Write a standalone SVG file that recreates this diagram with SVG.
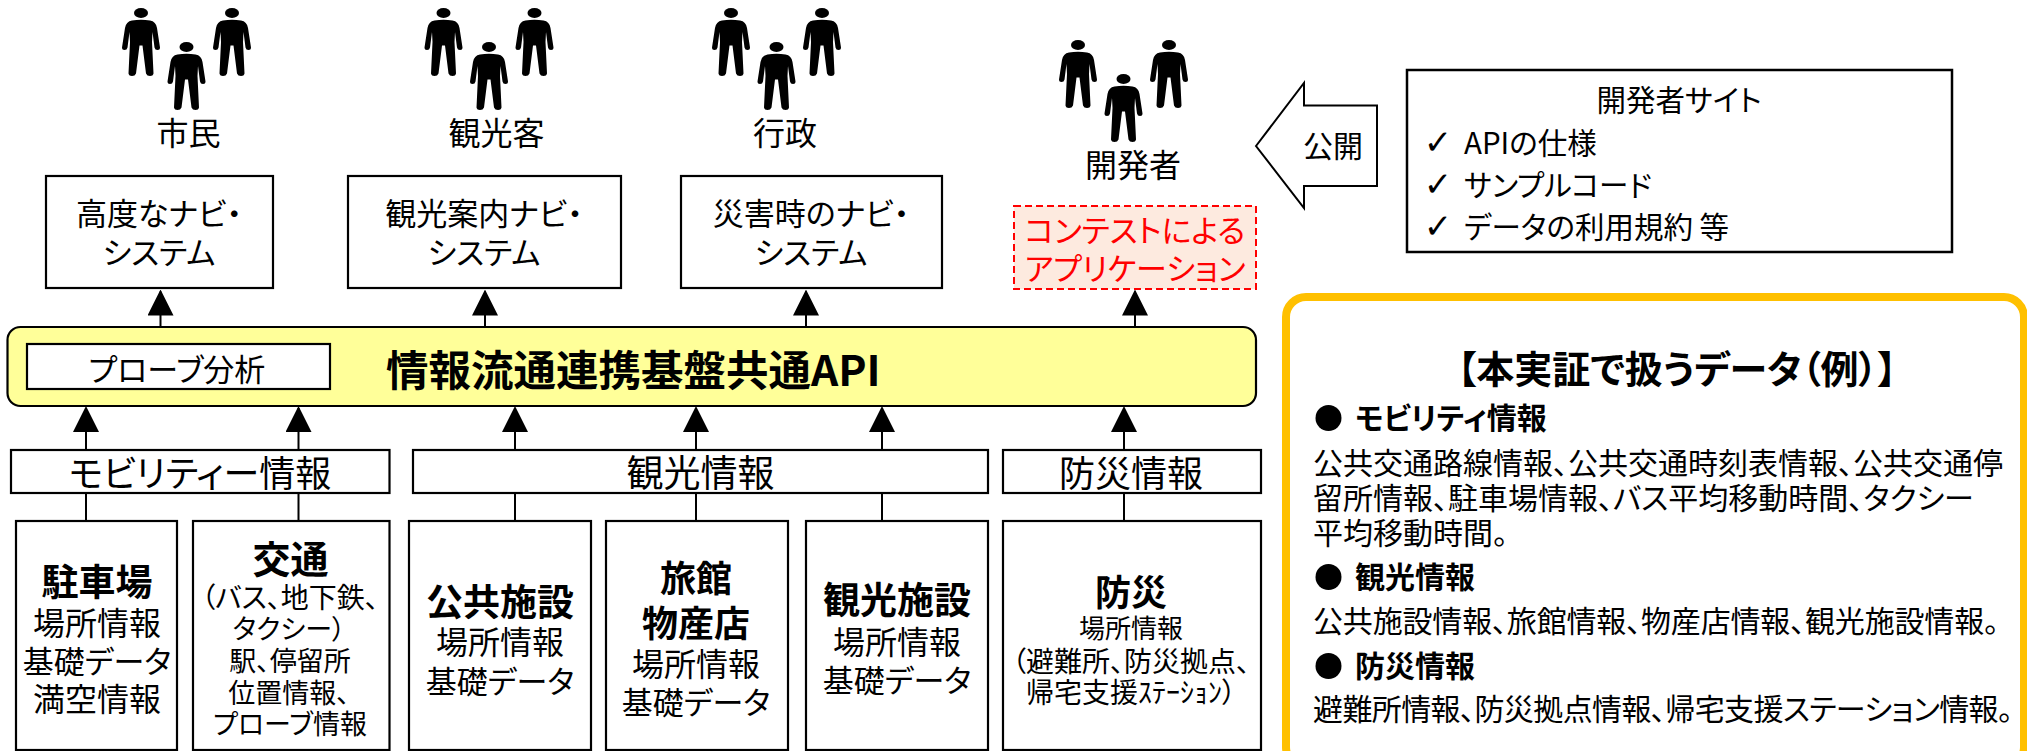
<svg xmlns="http://www.w3.org/2000/svg" xmlns:xlink="http://www.w3.org/1999/xlink" width="2027" height="751" viewBox="0 0 2027 751">
<style>
text,tspan{font-family:"Noto Sans CJK JP","Noto Sans",sans-serif;fill:#000;dominant-baseline:central;text-anchor:middle;font-feature-settings:"palt"}
text{transform:translateY(-2px)}
.s,.s tspan{text-anchor:start}
.b{font-weight:700}
.f26{font-size:26px}.f27{font-size:27px}.f28{font-size:28px}.f29{font-size:29.500px}.f30{font-size:30px}.f31{font-size:31px}.f32{font-size:32px}.f36{font-size:36px}.f37{font-size:37px}.f38{font-size:38px}
.red,.red tspan{fill:#f00}
.ck{font-family:"DejaVu Sans",sans-serif;font-size:34px}
.box{fill:#fff;stroke:#000;stroke-width:2.200}
.con{fill:none;stroke:#000;stroke-width:2}
</style>
<defs>
<marker id="ah" markerUnits="userSpaceOnUse" markerWidth="26" markerHeight="26" viewBox="0 0 26 26" refX="24" refY="13" orient="auto"><path d="M0,0L26,13L0,26z" fill="#000"/></marker>
<g id="person"><ellipse cx="0" cy="5" rx="7" ry="5"/><path d="M-9,12.500Q0,11 9,12.500Q15,13.500 16,20L19,39.500Q19,42 16.500,42Q14,42 13.500,39.500L11.500,24L11,34L12.500,65.500Q12,68 9,68Q6,68 5,65.500L1.500,37.500L-1.500,37.500L-5,65.500Q-6,68 -9,68Q-12,68 -12.500,65.500L-11,34L-11.500,24L-13.500,39.500Q-14,42 -16.500,42Q-19,42 -19,39.500L-16,20Q-15,13.500 -9,12.500z"/></g>
<g id="trio"><use xlink:href="#person" href="#person" x="0" y="8"/><use xlink:href="#person" href="#person" x="45.500" y="42"/><use xlink:href="#person" href="#person" x="91" y="8"/></g>
</defs>
<g id="connectors">
<line class="con" x1="160.500" y1="327" x2="160.500" y2="291.500" marker-end="url(#ah)"/>
<line class="con" x1="485" y1="327" x2="485" y2="291.500" marker-end="url(#ah)"/>
<line class="con" x1="806" y1="327" x2="806" y2="291.500" marker-end="url(#ah)"/>
<line class="con" x1="1135" y1="327" x2="1135" y2="291.500" marker-end="url(#ah)"/>
<line class="con" x1="86" y1="450" x2="86" y2="408" marker-end="url(#ah)"/>
<line class="con" x1="298.500" y1="450" x2="298.500" y2="408" marker-end="url(#ah)"/>
<line class="con" x1="515" y1="450" x2="515" y2="408" marker-end="url(#ah)"/>
<line class="con" x1="696" y1="450" x2="696" y2="408" marker-end="url(#ah)"/>
<line class="con" x1="882" y1="450" x2="882" y2="408" marker-end="url(#ah)"/>
<line class="con" x1="1124" y1="450" x2="1124" y2="408" marker-end="url(#ah)"/>
<path class="con" d="M86,493V521M298.500,493V521M515,493V521M696,493V521M882,493V521M1124,493V521"/>
</g>
<g id="users-citizens"><use xlink:href="#trio" href="#trio" x="141"/><text class="f32" x="188.500" y="133">市民</text></g>
<g id="users-tourists"><use xlink:href="#trio" href="#trio" x="443.500"/><text class="f32" x="496.500" y="133">観光客</text></g>
<g id="users-admin"><use xlink:href="#trio" href="#trio" x="731"/><text class="f32" x="785" y="133">行政</text></g>
<g id="users-dev"><use xlink:href="#trio" href="#trio" x="1078" y="32"/><text class="f32" x="1133" y="165">開発者</text></g>
<g id="nav-advanced"><rect class="box" x="46" y="176" width="227" height="112"/><text class="f31"><tspan x="159" y="213">高度なナビ・</tspan><tspan x="159" y="252">システム</tspan></text></g>
<g id="nav-tourism"><rect class="box" x="348" y="176" width="273" height="112"/><text class="f31"><tspan x="484" y="213">観光案内ナビ・</tspan><tspan x="484" y="252">システム</tspan></text></g>
<g id="nav-disaster"><rect class="box" x="681" y="176" width="261" height="112"/><text class="f31"><tspan x="811" y="213">災害時のナビ・</tspan><tspan x="811" y="252">システム</tspan></text></g>
<g id="contest"><rect x="1014" y="206" width="242" height="83" fill="#fdeadf" stroke="#f00" stroke-width="2" stroke-dasharray="7 4"/><text class="f31 red"><tspan x="1135" y="230">コンテストによる</tspan><tspan x="1135" y="268">アプリケーション</tspan></text></g>
<g id="publish"><path d="M1256,146L1304,83V105.500H1377V186H1304V208z" fill="#fff" stroke="#000" stroke-width="2"/><text class="f30" x="1333" y="146">公開</text></g>
<g id="dev-site"><rect x="1407" y="70" width="545" height="182" fill="#fff" stroke="#000" stroke-width="2.500"/>
<text class="f29" x="1679" y="100">開発者サイト</text>
<text class="ck" x="1438" y="144">✓</text><text class="f29 s" x="1464" y="143">APIの仕様</text>
<text class="ck" x="1438" y="186">✓</text><text class="f29 s" x="1464" y="185">サンプルコード</text>
<text class="ck" x="1438" y="228">✓</text><text class="f29 s" x="1464" y="227">データの利用規約 等</text></g>
<g id="platform"><rect x="7.500" y="327" width="1248.500" height="79" rx="13" fill="#ffff99" stroke="#000" stroke-width="2.200"/>
<rect class="box" x="27" y="344" width="303" height="45"/><text class="f31" x="177" y="369">プローブ分析</text>
<text class="b s" style="font-size:42.500px" x="386" y="369">情報流通連携基盤共通API</text></g>
<g id="cat-mobility"><rect class="box" x="11" y="450" width="378.500" height="43"/><text class="f36" x="200" y="473">モビリティー情報</text></g>
<g id="cat-tourism"><rect class="box" x="413" y="450" width="575" height="43"/><text class="f37" x="700.500" y="473">観光情報</text></g>
<g id="cat-disaster"><rect class="box" x="1003" y="450" width="258" height="43"/><text class="f36" x="1131" y="473">防災情報</text></g>
<g id="src-parking"><rect class="box" x="16" y="521" width="161" height="229"/><text class="f32"><tspan class="f37 b" x="97" y="582">駐車場</tspan><tspan x="97" y="623">場所情報</tspan><tspan class="f31" x="97" y="661">基礎データ</tspan><tspan x="97" y="699">満空情報</tspan></text></g>
<g id="src-transit"><rect class="box" x="193" y="521" width="196.500" height="229"/><text class="f27"><tspan class="f38 b" x="290.500" y="558">交通</tspan><tspan class="f28" x="290" y="598">（バス、地下鉄、</tspan><tspan x="289" y="629">タクシー）</tspan><tspan x="290" y="661">駅、停留所</tspan><tspan x="289" y="693">位置情報、</tspan><tspan x="290" y="724">プローブ情報</tspan></text></g>
<g id="src-public"><rect class="box" x="409" y="521" width="182" height="229"/><text class="f32"><tspan class="f37 b" x="500" y="602">公共施設</tspan><tspan x="500" y="642">場所情報</tspan><tspan class="f31" x="500" y="681">基礎データ</tspan></text></g>
<g id="src-inn"><rect class="box" x="606" y="521" width="182" height="229"/><text class="f32"><tspan class="f36 b" x="696" y="578">旅館</tspan><tspan class="f36 b" x="696" y="623">物産店</tspan><tspan x="696" y="664">場所情報</tspan><tspan class="f31" x="696" y="702">基礎データ</tspan></text></g>
<g id="src-sights"><rect class="box" x="806" y="521" width="182" height="229"/><text class="f32"><tspan class="f37 b" x="897" y="600">観光施設</tspan><tspan x="897" y="642">場所情報</tspan><tspan class="f31" x="897" y="680">基礎データ</tspan></text></g>
<g id="src-disaster"><rect class="box" x="1003" y="521" width="258" height="229"/><text class="f26"><tspan class="f36 b" x="1131" y="592">防災</tspan><tspan x="1131" y="628">場所情報</tspan><tspan class="f28" x="1131" y="662">（避難所、防災拠点、</tspan><tspan class="f28" x="1131" y="693">帰宅支援ｽﾃｰｼｮﾝ）</tspan></text></g>
<g id="data-panel"><rect x="1286" y="297" width="738" height="470" rx="20" fill="#fff" stroke="#ffc000" stroke-width="8"/>
<text class="f38 b" x="1677" y="368">【本実証で扱うデータ（例）】</text>
<circle cx="1328.500" cy="418" r="13"/><text class="f30 b s" x="1355" y="418">モビリティ情報</text>
<text class="f30 s"><tspan x="1313" y="463">公共交通路線情報、公共交通時刻表情報、公共交通停</tspan><tspan x="1313" y="498">留所情報、駐車場情報、バス平均移動時間、タクシー</tspan><tspan x="1313" y="533">平均移動時間。</tspan></text>
<circle cx="1328.500" cy="577" r="13"/><text class="f30 b s" x="1355" y="577">観光情報</text>
<text class="f30 s" x="1313" y="621" textLength="686" lengthAdjust="spacing">公共施設情報、旅館情報、物産店情報、観光施設情報。</text>
<circle cx="1328.500" cy="666" r="13"/><text class="f30 b s" x="1355" y="666">防災情報</text>
<text class="f30 s" x="1313" y="709" textLength="700" lengthAdjust="spacing">避難所情報、防災拠点情報、帰宅支援ステーション情報。</text></g>
</svg>
